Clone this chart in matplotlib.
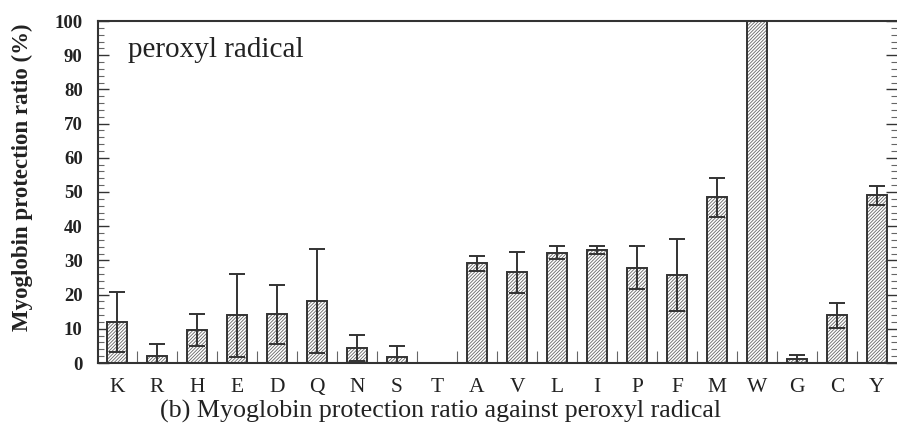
import numpy as np
import matplotlib.pyplot as plt

# amino acids and myoglobin protection ratio against peroxyl radical
amino = ["K", "R", "H", "E", "D", "Q", "N", "S", "T", "A",
         "V", "L", "I", "P", "F", "M", "W", "G", "C", "Y"]
ratio = [12.0, 2.1, 9.6, 13.9, 14.2, 18.0, 4.4, 1.9, 0.0, 29.1,
         26.5, 32.2, 33.0, 27.9, 25.7, 48.4, 100.0, 1.2, 13.9, 49.0]
err = [8.8, 3.6, 4.7, 12.2, 8.5, 15.2, 3.9, 3.2, 0.0, 2.3,
       6.0, 1.9, 1.1, 6.3, 10.5, 5.7, 0.0, 1.2, 3.6, 2.9]

plt.rcParams['font.family'] = ['Liberation Serif', 'DejaVu Serif']
plt.rcParams['hatch.linewidth'] = 0.6

dark = "#333333"
fig = plt.figure(figsize=(8.97, 4.37), dpi=100)
ax = fig.add_axes([98/897, 74/437, 799/897, 342/437])

x = np.arange(len(amino))
# hatch layer then the outline on top
ax.bar(x, ratio, width=0.5, color="white", edgecolor="#666666",
       hatch="//////////", linewidth=0, zorder=2)
ax.bar(x, ratio, width=0.5, color="none", edgecolor=dark,
       linewidth=1.4, zorder=3)

e = np.array(err)
m = e > 0
ax.errorbar(x[m], np.array(ratio)[m], yerr=e[m], fmt="none", ecolor=dark,
            elinewidth=1.4, capsize=6, capthick=1.4, zorder=4)

ax.set_xlim(-0.475, 19.5)
ax.set_ylim(0, 100)
ax.set_yticks(np.arange(0, 101, 10))
ax.set_yticks(np.arange(0, 101, 2), minor=True)
ax.set_yticklabels([str(v) for v in range(0, 101, 10)],
                   fontweight="bold", fontsize=13.5, color="#222222")
ax.tick_params(axis="y", which="major", direction="in", length=8,
               width=1, color=dark, right=True, pad=11)
ax.tick_params(axis="y", which="minor", direction="in", length=4,
               width=0.8, color="#666666", right=True)

ax.set_xticks(x)
ax.set_xticklabels(amino, fontsize=15.5, color="#222222")
ax.set_xticks(x[:-1] + 0.5, minor=True)
ax.tick_params(axis="x", which="major", length=0, pad=11)
ax.tick_params(axis="x", which="minor", direction="in", length=9,
               width=0.8, color="#666666")

for s in ax.spines.values():
    s.set_color(dark)
    s.set_linewidth(1.5)
ax.spines["right"].set_visible(False)

ax.set_ylabel("Myoglobin protection ratio (%)", fontweight="bold",
              fontsize=16.5, color="#222222")
ax.yaxis.label.set_verticalalignment("center")
ax.yaxis.set_label_coords(-0.095, 0.542)
ax.text(0.037, 0.915, "peroxyl radical", transform=ax.transAxes,
        fontsize=21, color="#222222", va="center")
fig.text(160/897, 1 - 411/437, "(b) Myoglobin protection ratio against peroxyl radical",
         fontsize=18.7, color="#222222", va="center")

fig.savefig("out.png", dpi=100)
